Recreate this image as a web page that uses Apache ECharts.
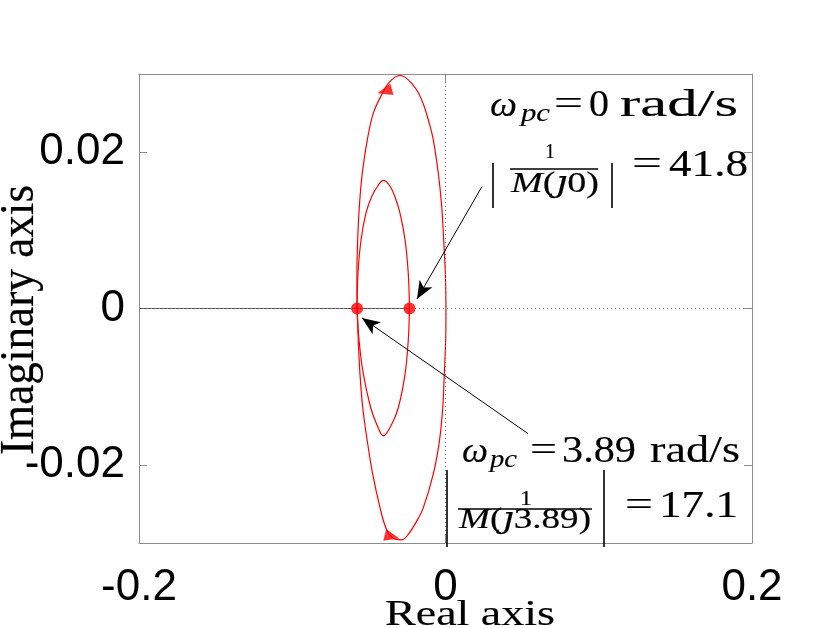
<!DOCTYPE html>
<html><head><meta charset="utf-8">
<script src="https://cdn.jsdelivr.net/npm/echarts@6/dist/echarts.min.js"></script>
<style>html,body{margin:0;padding:0;background:#fff}#c{width:830px;height:628px}</style>
</head><body><div id="c"></div>
<script>
// ---------- data ----------
const xTicks = [-0.2, 0, 0.2];
const yTicks = [-0.02, 0, 0.02];
const outerUpper = [[-0.0577,0],[-0.0578,0.0045],[-0.0573,0.0088],[-0.0562,0.0131],[-0.0543,0.0173],[-0.0510,0.0216],[-0.0471,0.0250],[-0.0410,0.0276],[-0.0373,0.0288],[-0.0330,0.0296],[-0.0297,0.0298],[-0.0264,0.0296],[-0.0221,0.0288],[-0.0177,0.0276],[-0.0140,0.0259],[-0.0106,0.0237],[-0.0080,0.0216],[-0.0047,0.0173],[-0.0025,0.0131],[-0.0012,0.0088],[-0.0001,0.0045],[0.0003,0]];
const outerLower = [[-0.0577,0],[-0.0569,-0.0041],[-0.0558,-0.0084],[-0.0540,-0.0127],[-0.0510,-0.0170],[-0.0475,-0.0212],[-0.0427,-0.0255],[-0.0388,-0.0281],[-0.0341,-0.0294],[-0.0286,-0.0296],[-0.0243,-0.0289],[-0.0188,-0.0272],[-0.0145,-0.0255],[-0.0080,-0.0212],[-0.0040,-0.0170],[-0.0018,-0.0127],[-0.0008,-0.0084],[0.0001,-0.0041],[0.0003,0]];
const innerUpper = [[-0.0577,0],[-0.0571,0.0045],[-0.0551,0.0088],[-0.0519,0.0122],[-0.0482,0.0143],[-0.0438,0.0158],[-0.0406,0.0164],[-0.0367,0.0158],[-0.0330,0.0143],[-0.0297,0.0122],[-0.0264,0.0088],[-0.0243,0.0045],[-0.0235,0]];
const innerLower = [[-0.0577,0],[-0.0564,-0.0041],[-0.0536,-0.0084],[-0.0488,-0.0127],[-0.0449,-0.0148],[-0.0406,-0.0163],[-0.0351,-0.0148],[-0.0308,-0.0127],[-0.0264,-0.0084],[-0.0243,-0.0041],[-0.0235,0]];
const realAxisSeg = [[-0.2,0],[-0.0235,0]];
const markerPts = [[-0.0577,0],[-0.0235,0]];
const arrowPts = [[-0.0397,0.0278],[-0.0349,-0.0292]];
const arrowRot = [105,-104];
const note1Arrow = [[0.0238,0.0156],[-0.0186,0.0012]];
const note2Arrow = [[0.0538,-0.0160],[-0.0545,-0.0012]];

// ---------- text helpers ----------
const SERIF = '"Liberation Serif", "DejaVu Serif", serif';
const JFONT = '"DejaVu Serif", serif';
const SANS = '"Liberation Sans", Arial, sans-serif';
const mctx = document.createElement('canvas').getContext('2d');
// token: [text, italic, useJFont]
function fam(t){ return t[2] ? JFONT : SERIF; }
function measure(tokens, size){
  let w = 0;
  tokens.forEach(t => { mctx.font = (t[1] ? 'italic ' : '') + size + 'px ' + fam(t); w += mctx.measureText(t[0]).width; });
  return w;
}
function tex(tokens, left, right, baseline, size){
  const w = measure(tokens, size);
  const rich = {};
  const parts = tokens.map((t, k) => {
    rich['t' + k] = {fontSize: size, fontFamily: fam(t), fontStyle: t[1] ? 'italic' : 'normal',
      fill: '#000', stroke: '#000', lineWidth: 0.15};
    return '{t' + k + '|' + t[0] + '}';
  });
  return {type: 'text', silent: true, z: 100, x: left, y: baseline - 0.285 * size, scaleX: (right - left) / w,
    style: {text: parts.join(''), rich: rich,
      align: 'left', verticalAlign: 'middle', fontSize: size, fontFamily: SERIF, fill: '#000'}};
}
function bar(x1, y1, x2, y2, w){
  return {type: 'line', silent: true, z: 100, shape: {x1: x1, y1: y1, x2: x2, y2: y2}, style: {stroke: '#000', lineWidth: w || 1.6}};
}
const imW = measure([['Imaginary axis', 0]], 36);

const graphics = [
  // box 1
  tex([['ω',1]], 490, 517, 117, 36),
  tex([['pc',1]], 521, 550, 122, 25),
  tex([['=',0]], 554, 583, 116, 36),
  tex([['0',0]], 589, 609, 117, 37),
  tex([['rad/s',0]], 620, 738, 117, 37),
  bar(493, 163, 493, 208),
  tex([['1',0]], 545, 555, 158, 20),
  bar(510, 169, 598, 169, 1.3),
  tex([['M',1],['(',0],['ȷ',1,1],['0)',0]], 511, 599, 193, 29),
  bar(612, 163, 612, 208),
  tex([['=',0]], 632, 662, 176, 36),
  tex([['41.8',0]], 669, 748, 177, 38),
  // box 2
  tex([['ω',1]], 462, 488, 463, 36),
  tex([['pc',1]], 490, 517, 468, 25),
  tex([['=',0]], 530, 557, 462, 36),
  tex([['3.89',0]], 562, 636, 463, 38),
  tex([['rad/s',0]], 650, 740, 463, 37),
  bar(447, 470, 447, 547),
  tex([['1',0]], 520, 532, 505, 20),
  bar(458, 509, 592, 509, 1.3),
  tex([['M',1],['(',0],['ȷ',1,1],['3.89)',0]], 459, 591, 529, 29),
  bar(604, 470, 604, 547),
  tex([['=',0]], 625, 653, 517, 36),
  tex([['17.1',0]], 659, 738, 518, 38),
  // axis titles
  tex([['Real axis',0]], 385, 555, 626, 35),
  {type: 'text', silent: true, z: 100, x: 20, y: 320, rotation: Math.PI / 2, scaleX: 270 / imW, scaleY: 1.35,
    style: {text: 'Imaginary axis', align: 'center', verticalAlign: 'middle', fontSize: 36, fontFamily: SERIF,
      fill: '#000', stroke: '#000', lineWidth: 0.15}}
];

// ---------- chart ----------
const FRAME = '#8c8c8c';
const axisCommon = {
  axisLine: {show: true, onZero: false, lineStyle: {color: FRAME, width: 1}},
  axisTick: {show: true, inside: true, length: 8, lineStyle: {color: FRAME, width: 1}},
  splitLine: {show: false}
};
const chart = echarts.init(document.getElementById('c'), null, {renderer: 'canvas'});
const redLine = (name, data) => ({
  name: name, type: 'line', data: data, smooth: 0.35, symbol: 'none', z: 4,
  lineStyle: {color: '#ff0000', width: 1.2}, itemStyle: {color: '#ff0000'}
});
chart.setOption({
  animation: false,
  backgroundColor: '#fff',
  grid: {left: 139, right: 78, top: 74, bottom: 85},
  xAxis: [
    Object.assign({type: 'value', min: xTicks[0], max: xTicks[2], interval: 0.2, position: 'bottom',
      axisLabel: {show: true, margin: 23, fontSize: 44, fontFamily: SANS, color: '#000'}}, axisCommon),
    Object.assign({type: 'value', min: xTicks[0], max: xTicks[2], interval: 0.2, position: 'top',
      axisLabel: {show: false}}, axisCommon)
  ],
  yAxis: [
    Object.assign({}, axisCommon, {type: 'value', min: -0.03, max: 0.03, interval: 0.01, position: 'left',
      axisTick: Object.assign({}, axisCommon.axisTick, {customValues: yTicks}),
      axisLabel: {show: true, customValues: yTicks, margin: 14, fontSize: 44, fontFamily: SANS, color: '#000'}}),
    Object.assign({}, axisCommon, {type: 'value', min: -0.03, max: 0.03, interval: 0.01, position: 'right',
      axisTick: Object.assign({}, axisCommon.axisTick, {customValues: yTicks}),
      axisLabel: {show: false}})
  ],
  graphic: graphics,
  series: [
    {name: 'real axis', type: 'line', data: realAxisSeg, symbol: 'none', z: 3,
      lineStyle: {color: '#555', width: 1},
      markLine: {silent: true, symbol: ['none', 'none'], label: {show: false}, animation: false,
        lineStyle: {type: [1, 3], color: '#777', width: 1},
        data: [{xAxis: 0}, {yAxis: 0}]}},
    redLine('outer upper', outerUpper),
    redLine('outer lower', outerLower),
    redLine('inner upper', innerUpper),
    redLine('inner lower', innerLower),
    {name: 'arrows', type: 'scatter', z: 5, symbol: 'triangle', symbolSize: [12, 15],
      itemStyle: {color: '#ff0000'},
      data: arrowPts.map((p, i) => ({value: p, symbolRotate: arrowRot[i]}))},
    {name: 'points', type: 'scatter', z: 6, symbol: 'circle', symbolSize: 12,
      itemStyle: {color: '#ff0000'}, data: markerPts,
      markLine: {silent: true, symbol: ['none', 'arrow'], symbolSize: [11, 18], label: {show: false}, animation: false,
        lineStyle: {color: '#000', width: 1, type: 'solid'},
        data: [
          [{coord: note1Arrow[0]}, {coord: note1Arrow[1]}],
          [{coord: note2Arrow[0]}, {coord: note2Arrow[1]}]
        ]}}
  ]
});
</script></body></html>
